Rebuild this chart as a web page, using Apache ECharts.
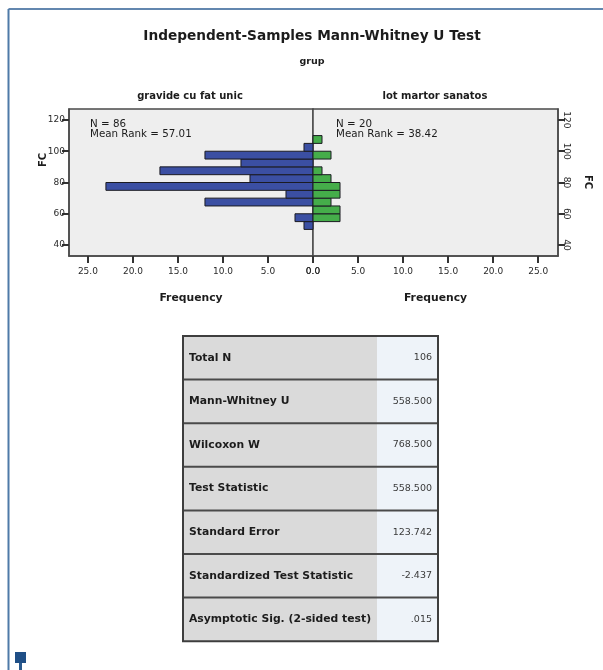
<!DOCTYPE html>
<html>
<head>
<meta charset="utf-8">
<script src="https://cdn.jsdelivr.net/npm/echarts@6/dist/echarts.min.js"></script>
<style>
  html, body { margin: 0; padding: 0; background: #ffffff; }
  #chart { width: 603px; height: 670px; }
</style>
</head>
<body>
<div id="chart"></div>
<script>
// FC histogram bins (lower/upper edges), 5-unit wide
const binEdges = [50, 55, 60, 65, 70, 75, 80, 85, 90, 95, 100, 105, 110];
// Frequencies per bin, lowest bin first
const countsSingleton = [1, 2, 0, 12, 3, 23, 7, 17, 8, 12, 1, 0];
const countsControl   = [0, 3, 3, 2, 3, 3, 2, 1, 0, 2, 0, 1];

const groupNames = ['gravide cu fat unic', 'lot martor sanatos'];
const groupN = [86, 20];
const meanRanks = ['57.01', '38.42'];

const fcTicks = [40, 60, 80, 100, 120];
const freqTicks = [0, 5, 10, 15, 20, 25];

const statLabels = [
  'Total N',
  'Mann-Whitney U',
  'Wilcoxon W',
  'Test Statistic',
  'Standard Error',
  'Standardized Test Statistic',
  'Asymptotic Sig. (2-sided test)'
];
const statValues = ['106', '558.500', '768.500', '558.500', '123.742', '-2.437', '.015'];

const FONT = '"DejaVu Sans", "Liberation Sans", sans-serif';
const INK = '#1c1c1c';
const AXIS = '#4a4a4a';
const TICK = '#333333';

function binData(counts) {
  return counts.map((c, i) => [binEdges[i], binEdges[i + 1], c]);
}

function histRect(color) {
  return function (params, api) {
    const c = api.value(2);
    if (!c) return null;
    const p0 = api.coord([0, api.value(0)]);
    const p1 = api.coord([c, api.value(1)]);
    return {
      type: 'rect',
      shape: {
        x: Math.min(p0[0], p1[0]),
        y: Math.min(p0[1], p1[1]),
        width: Math.abs(p1[0] - p0[0]),
        height: Math.abs(p1[1] - p0[1])
      },
      style: { fill: color, stroke: '#1b1b22', lineWidth: 1 }
    };
  };
}

const plotTop = 109, plotH = 147, midX = 313;

function fcAxis(gridIndex, side) {
  return {
    gridIndex: gridIndex,
    type: 'value',
    min: 33,
    max: 127,
    position: side,
    axisLine: { show: true, onZero: false, lineStyle: { color: AXIS, width: 1.5 } },
    axisTick: { show: true, customValues: fcTicks, length: 7, lineStyle: { color: TICK, width: 2 } },
    axisLabel: {
      customValues: fcTicks,
      fontFamily: FONT, fontSize: 9, color: '#2a2a2a', margin: 4,
      rotate: side === 'right' ? -90 : 0
    },
    splitLine: { show: false }
  };
}

function freqAxis(gridIndex, inverse, max) {
  return {
    gridIndex: gridIndex,
    type: 'value',
    inverse: inverse,
    min: 0,
    max: max,
    axisLine: { show: true, onZero: false, lineStyle: { color: AXIS, width: 1.5 } },
    axisTick: { show: true, customValues: freqTicks, length: 7, lineStyle: { color: TICK, width: 2 } },
    axisLabel: {
      customValues: freqTicks,
      formatter: v => Number(v).toFixed(1),
      fontFamily: FONT, fontSize: 9, color: '#2a2a2a', margin: 11
    },
    name: 'Frequency',
    nameLocation: 'middle',
    nameGap: 37,
    nameTextStyle: { fontFamily: FONT, fontWeight: 'bold', fontSize: 10.8, color: INK },
    splitLine: { show: false }
  };
}

// Summary table drawn as graphic cells
const tbl = { left: 183, labelRight: 377, right: 438, top: 336, rowH: 43.6 };
const tableGraphics = [];
statLabels.forEach((lab, i) => {
  const y = tbl.top + i * tbl.rowH;
  tableGraphics.push({
    type: 'rect', shape: { x: tbl.left, y: y, width: tbl.labelRight - tbl.left, height: tbl.rowH },
    style: { fill: '#dadada' }, silent: true
  });
  tableGraphics.push({
    type: 'rect', shape: { x: tbl.labelRight, y: y, width: tbl.right - tbl.labelRight, height: tbl.rowH },
    style: { fill: '#eef3f9' }, silent: true
  });
  tableGraphics.push({
    type: 'text', x: tbl.left + 6, y: y + tbl.rowH / 2,
    style: { text: lab, fontFamily: FONT, fontWeight: 'bold', fontSize: 10.8, fill: INK,
             textAlign: 'left', textVerticalAlign: 'middle' }
  });
  tableGraphics.push({
    type: 'text', x: tbl.right - 6, y: y + tbl.rowH / 2,
    style: { text: statValues[i], fontFamily: FONT, fontSize: 9.5, fill: '#3a3a3a',
             textAlign: 'right', textVerticalAlign: 'middle' }
  });
  if (i > 0) {
    tableGraphics.push({
      type: 'line', shape: { x1: tbl.left, y1: y, x2: tbl.right, y2: y },
      style: { stroke: '#4a4a4a', lineWidth: 2 }
    });
  }
});
tableGraphics.push({
  type: 'rect',
  shape: { x: tbl.left, y: tbl.top, width: tbl.right - tbl.left, height: tbl.rowH * statLabels.length },
  style: { fill: null, stroke: '#3e3e3e', lineWidth: 2 }
});

const textStyle = (t, size, bold, align) => ({
  text: t, fontFamily: FONT, fontSize: size, fontWeight: bold ? 'bold' : 'normal',
  fill: INK, textAlign: align || 'center', textVerticalAlign: 'middle'
});

const option = {
  animation: false,
  grid: [
    { left: 69, top: plotTop, width: midX - 69, height: plotH, show: true,
      backgroundColor: '#eeeeee', borderColor: AXIS, borderWidth: 1.5 },
    { left: midX, top: plotTop, width: 558 - midX, height: plotH, show: true,
      backgroundColor: '#eeeeee', borderColor: AXIS, borderWidth: 1.5 }
  ],
  xAxis: [freqAxis(0, true, 27.1), freqAxis(1, false, 27.2)],
  yAxis: [fcAxis(0, 'left'), fcAxis(1, 'right')],
  series: [
    { type: 'custom', xAxisIndex: 0, yAxisIndex: 0, renderItem: histRect('#3b4fa3'),
      encode: { x: 2, y: [0, 1] }, data: binData(countsSingleton) },
    { type: 'custom', xAxisIndex: 1, yAxisIndex: 1, renderItem: histRect('#45ad4a'),
      encode: { x: 2, y: [0, 1] }, data: binData(countsControl) }
  ],
  graphic: [
    // page frame
    { type: 'line', shape: { x1: 8.5, y1: 9, x2: 603, y2: 9 }, style: { stroke: '#2f5f94', lineWidth: 1.5 } },
    { type: 'line', shape: { x1: 8.5, y1: 9, x2: 8.5, y2: 670 }, style: { stroke: '#4f7aa8', lineWidth: 2 } },
    { type: 'rect', shape: { x: 15, y: 652, width: 11, height: 11 }, style: { fill: '#1f4f86' } },
    { type: 'rect', shape: { x: 19, y: 663, width: 3, height: 7 }, style: { fill: '#2a5a8e' } },
    // headings
    { type: 'text', x: 312, y: 36, style: textStyle('Independent-Samples Mann-Whitney U Test', 13.7, true) },
    { type: 'text', x: 312, y: 62, style: textStyle('grup', 9.5, true) },
    { type: 'text', x: 190, y: 96, style: textStyle(groupNames[0], 10, true) },
    { type: 'text', x: 435, y: 96, style: textStyle(groupNames[1], 10, true) },
    // group annotations
    { type: 'text', x: 90, y: 124, style: textStyle('N = ' + groupN[0], 10.3, false, 'left') },
    { type: 'text', x: 90, y: 134, style: textStyle('Mean Rank = ' + meanRanks[0], 10.3, false, 'left') },
    { type: 'text', x: 336, y: 124, style: textStyle('N = ' + groupN[1], 10.3, false, 'left') },
    { type: 'text', x: 336, y: 134, style: textStyle('Mean Rank = ' + meanRanks[1], 10.3, false, 'left') },
    // FC axis titles
    { type: 'text', x: 43, y: 160, rotation: Math.PI / 2, style: textStyle('FC', 10, true) },
    { type: 'text', x: 588, y: 182, rotation: -Math.PI / 2, style: textStyle('FC', 10, true) }
  ].concat(tableGraphics)
};

const chart = echarts.init(document.getElementById('chart'), null, { renderer: 'canvas' });
chart.setOption(option);
</script>
</body>
</html>
